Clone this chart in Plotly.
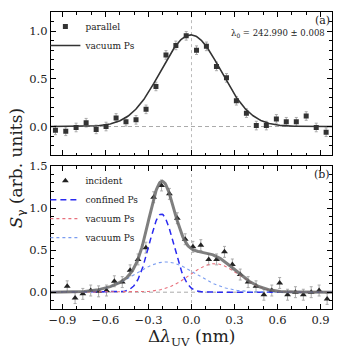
import numpy as np
import plotly.graph_objects as go

# ---------------- data ----------------
# panel (a): parallel geometry
x_par = [-0.949, -0.877, -0.805, -0.735, -0.665, -0.596, -0.526, -0.457, -0.387, -0.317,
         -0.248, -0.178, -0.109, -0.037, 0.035, 0.104, 0.174, 0.244, 0.313, 0.383,
         0.452, 0.522, 0.592, 0.661, 0.731, 0.800, 0.870, 0.939]
s_par = [-0.04, -0.05, -0.01, 0.04, -0.03, 0.00, 0.09, 0.05, 0.07, 0.18,
         0.42, 0.75, 0.85, 0.95, 0.80, 0.84, 0.63, 0.51, 0.27, 0.14,
         0.01, 0.01, 0.08, 0.05, 0.05, 0.11, -0.01, -0.06]
e_par = [0.045] * len(x_par)

# panel (b): incident geometry
x_inc = [-0.867, -0.812, -0.758, -0.703, -0.648, -0.593, -0.538, -0.483, -0.428, -0.373,
         -0.318, -0.264, -0.209, -0.154, -0.099, -0.044, 0.010, 0.065, 0.120, 0.175,
         0.230, 0.285, 0.340, 0.395, 0.450, 0.505, 0.560, 0.615, 0.670, 0.725,
         0.780, 0.835, 0.890, 0.946]
s_inc = [0.07, -0.07, -0.02, 0.02, 0.01, 0.02, 0.13, 0.12, 0.26, 0.39,
         0.53, 1.13, 1.27, 1.17, 0.88, 0.63, 0.54, 0.56, 0.39, 0.39,
         0.48, 0.33, 0.21, 0.12, 0.07, -0.03, 0.02, 0.11, -0.03, 0.00,
         -0.03, 0.00, 0.02, -0.08]
e_inc = [0.065] * len(x_inc)

# fitted Gaussian components: (amplitude, centre, sigma)
fit_a = (0.96, -0.005, 0.21)          # vacuum Ps, panel (a)
fit_confined = (0.93, -0.21, 0.086)   # confined Ps
fit_vac_red = (0.34, 0.16, 0.17)      # vacuum Ps (red)
fit_vac_blue = (0.36, -0.18, 0.21)    # vacuum Ps (blue)

xf = np.linspace(-0.98, 0.98, 400)


def gauss(p, x):
    a, c, s = p
    return a * np.exp(-(x - c) ** 2 / (2 * s ** 2))


ya = gauss(fit_a, xf)
yc = gauss(fit_confined, xf)
yr = gauss(fit_vac_red, xf)
yb = gauss(fit_vac_blue, xf)
ysum = yc + yr + yb

SERIF = "DejaVu Serif"

fig = go.Figure()

# ---- panel (a)
fig.add_trace(go.Scatter(
    x=x_par, y=s_par, mode="markers", name="parallel",
    marker=dict(symbol="square", size=5, color="#333333"),
    error_y=dict(type="data", array=e_par, color="#aaaaaa", thickness=1, width=1.5),
    xaxis="x", yaxis="y", legend="legend"))
fig.add_trace(go.Scatter(
    x=xf, y=ya, mode="lines", name="vacuum Ps",
    line=dict(color="#333333", width=1.6),
    xaxis="x", yaxis="y", legend="legend"))

# ---- panel (b)
fig.add_trace(go.Scatter(
    x=x_inc, y=s_inc, mode="markers", name="incident",
    marker=dict(symbol="triangle-up", size=6, color="#222222"),
    error_y=dict(type="data", array=e_inc, color="#aaaaaa", thickness=1, width=1.5),
    xaxis="x2", yaxis="y2", legend="legend2"))
fig.add_trace(go.Scatter(
    x=xf, y=yc, mode="lines", name="confined Ps",
    line=dict(color="#2b2bf0", width=1.5, dash="6px,4px"),
    xaxis="x2", yaxis="y2", legend="legend2"))
fig.add_trace(go.Scatter(
    x=xf, y=yr, mode="lines", name="vacuum Ps",
    line=dict(color="#e8707c", width=1.1, dash="dot"),
    xaxis="x2", yaxis="y2", legend="legend2"))
fig.add_trace(go.Scatter(
    x=xf, y=yb, mode="lines", name="vacuum Ps",
    line=dict(color="#7a9cf0", width=1.1, dash="dot"),
    xaxis="x2", yaxis="y2", legend="legend2"))
fig.add_trace(go.Scatter(
    x=xf, y=ysum, mode="lines", name="sum", showlegend=False,
    line=dict(color="rgba(105,105,105,0.85)", width=3),
    xaxis="x2", yaxis="y2"))

axis_common = dict(
    showline=True, linecolor="black", linewidth=1.3, mirror="allticks",
    ticks="inside", ticklen=5, tickwidth=1, tickcolor="black",
    showgrid=False, zeroline=False,
    tickfont=dict(family=SERIF, size=11.5, color="#222"),
)
minor = dict(ticks="inside", ticklen=2.5, tickwidth=0.8, tickcolor="black", showgrid=False)

fig.update_layout(
    width=339, height=349,
    margin=dict(l=51, r=7, t=5, b=40),
    plot_bgcolor="white", paper_bgcolor="white",
    font=dict(family=SERIF, color="#222"),
    xaxis=dict(domain=[0, 1], range=[-0.98, 0.98], anchor="y", matches="x2",
               tickvals=[-0.9, -0.6, -0.3, 0.0, 0.3, 0.6, 0.9], showticklabels=False,
               minor=dict(dtick=0.1, **minor), **axis_common),
    yaxis=dict(domain=[0.518, 1], range=[-0.3, 1.2], anchor="x",
               tickvals=[0.0, 0.5, 1.0], tickformat=".1f",
               minor=dict(dtick=0.1, **minor), **axis_common),
    xaxis2=dict(domain=[0, 1], range=[-0.98, 0.98], anchor="y2",
                tickvals=[-0.9, -0.6, -0.3, 0.0, 0.3, 0.6, 0.9], tickformat=".1f",
                minor=dict(dtick=0.1, **minor), **axis_common),
    yaxis2=dict(domain=[0, 0.481], range=[-0.2, 1.5], anchor="x2",
                tickvals=[0.0, 0.5, 1.0, 1.5], tickformat=".1f",
                minor=dict(dtick=0.1, **minor), **axis_common),
    legend=dict(x=-0.02, y=1.0, xanchor="left", yanchor="top",
                bgcolor="rgba(0,0,0,0)", font=dict(family=SERIF, size=9, color="#222"),
                tracegroupgap=0),
    legend2=dict(x=-0.02, y=0.481, xanchor="left", yanchor="top",
                 bgcolor="rgba(0,0,0,0)", font=dict(family=SERIF, size=9, color="#222"),
                 tracegroupgap=0),
    showlegend=True,
)

# reference lines
for xr, yr_ in (("x", "y"), ("x2", "y2")):
    fig.add_shape(type="line", xref=xr + " domain", yref=yr_, x0=0, x1=1, y0=0, y1=0,
                  line=dict(color="#aaaaaa", width=1, dash="4px,3px"), layer="below")
    fig.add_shape(type="line", xref=xr, yref=yr_ + " domain", x0=0, x1=0, y0=0, y1=1,
                  line=dict(color="#bbbbbb", width=1, dash="dot"), layer="below")

# annotations
fig.add_annotation(text="(a)", xref="paper", yref="paper", x=1.0, y=1.0,
                   xanchor="right", yanchor="top", showarrow=False,
                   font=dict(family=SERIF, size=11, color="#222"))
fig.add_annotation(text="λ<sub>0</sub> = 242.990 ± 0.008", xref="paper", yref="paper",
                   x=0.982, y=0.952, xanchor="right", yanchor="top", showarrow=False,
                   font=dict(family=SERIF, size=8.5, color="#222"))
fig.add_annotation(text="(b)", xref="paper", yref="paper", x=1.0, y=0.481,
                   xanchor="right", yanchor="top", showarrow=False,
                   font=dict(family=SERIF, size=11, color="#222"))
fig.add_annotation(text="Δ<i>λ</i><sub>UV</sub> (nm)", xref="paper", yref="paper",
                   x=0.5, y=-0.052, xanchor="center", yanchor="top", showarrow=False,
                   font=dict(family=SERIF, size=17, color="#222"))
fig.add_annotation(text="<i>S</i><sub>γ</sub> (arb. units)", xref="paper", yref="paper",
                   x=-0.121, y=0.474, xanchor="center", yanchor="middle", showarrow=False,
                   textangle=-90, font=dict(family=SERIF, size=17, color="#222"))

fig.write_html("out.html")
